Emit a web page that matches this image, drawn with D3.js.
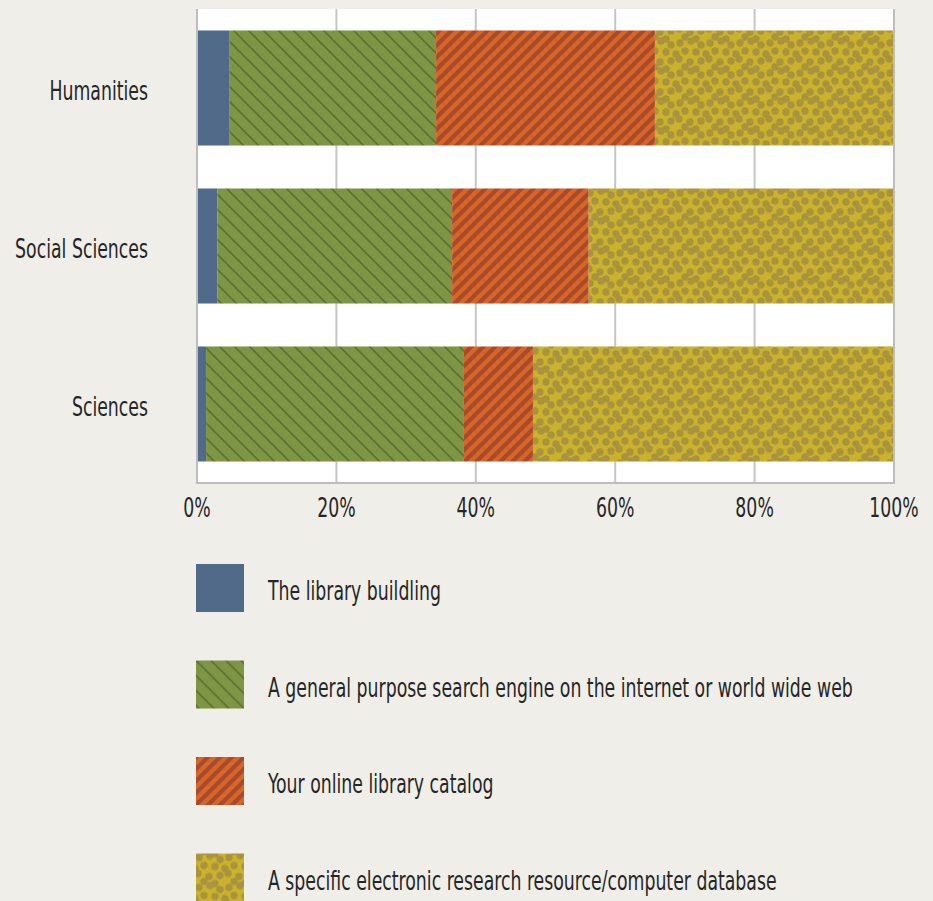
<!DOCTYPE html>
<html>
<head>
<meta charset="utf-8">
<script src="https://cdn.jsdelivr.net/npm/d3@7"></script>
<style>
  body { margin: 0; background: #efeee8; }
  svg text { font-family: "Liberation Sans Narrow", "DejaVu Sans Condensed", sans-serif; fill: #262626; }
</style>
</head>
<body>
<div id="chart"></div>
<script>
// Data (share of responses, %)
const categories = ["Humanities", "Social Sciences", "Sciences"];
const seriesNames = [
  "The library buildling",
  "A general purpose search engine on the internet or world wide web",
  "Your online library catalog",
  "A specific electronic research resource/computer database"
];
const libraryBuilding = [4.7, 2.9, 1.3];
const searchEngine = [29.6, 33.7, 37.0];
const onlineCatalog = [31.4, 19.6, 9.9];
const electronicResource = [34.3, 43.8, 51.8];
const tickValues = [0, 20, 40, 60, 80, 100];

const width = 933, height = 901;
const margin = { left: 197, top: 9, right: 39, bottom: 418 };
const plotW = width - margin.left - margin.right;
const plotH = height - margin.top - margin.bottom;

// condensed look: squeeze the text horizontally
const squeeze = 0.74;
const fontSize = "26px";

const svg = d3.select("#chart").append("svg")
  .attr("width", width)
  .attr("height", height);

// Fill patterns for each series
const defs = svg.append("defs");
const fills = ["#526a89", "url(#pat-green)", "url(#pat-orange)", "url(#pat-yellow)"];

const pg = defs.append("pattern").attr("id", "pat-green")
  .attr("patternUnits", "userSpaceOnUse").attr("width", 15).attr("height", 15);
pg.append("rect").attr("width", 15).attr("height", 15).attr("fill", "#7d9544");
pg.append("path").attr("d", "M-4,-4 L19,19 M-4,11 L4,19 M11,-4 L19,4")
  .attr("stroke", "#5b7230").attr("stroke-width", 1.6);

const po = defs.append("pattern").attr("id", "pat-orange")
  .attr("patternUnits", "userSpaceOnUse").attr("width", 12).attr("height", 12);
po.append("rect").attr("width", 12).attr("height", 12).attr("fill", "#d6652a");
po.append("path").attr("d", "M-3,3 L3,-3 M-3,15 L15,-3 M9,15 L15,9")
  .attr("stroke", "#a94b28").attr("stroke-width", 4.2);

const py = defs.append("pattern").attr("id", "pat-yellow")
  .attr("patternUnits", "userSpaceOnUse").attr("width", 30).attr("height", 30);
py.append("rect").attr("width", 30).attr("height", 30).attr("fill", "#cbb22c");
const dots = [[3, 4], [14, 2], [24, 6], [8, 12], [19, 13], [29, 15], [2, 20], [13, 23], [24, 22], [8, 28], [19, 30]];
// dots plus their copies shifted by one tile, so edges wrap cleanly
const shifts = [[0, 0], [30, 0], [-30, 0], [0, 30], [0, -30]];
const allDots = [];
shifts.forEach(s => dots.forEach(d => allDots.push([d[0] + s[0], d[1] + s[1]])));
py.selectAll("circle").data(allDots).enter().append("circle")
  .attr("cx", d => d[0]).attr("cy", d => d[1]).attr("r", 3.7)
  .attr("fill", "#a9943d");

const g = svg.append("g").attr("transform", `translate(${margin.left},${margin.top})`);

const x = d3.scaleLinear().domain([0, 100]).range([0, plotW]);
const y = d3.scaleBand().domain(categories).range([0, plotH]).paddingInner(0.272).paddingOuter(0.136);

// Plot background
g.append("rect").attr("width", plotW).attr("height", plotH).attr("fill", "#ffffff");

// Grid lines
g.selectAll("line.grid").data(tickValues.slice(1, -1)).enter().append("line")
  .attr("x1", d => x(d)).attr("x2", d => x(d))
  .attr("y1", 0).attr("y2", plotH)
  .attr("stroke", "#c6c6c6").attr("stroke-width", 2);

// Stack the series
const rows = categories.map((c, i) => ({
  cat: c, s0: libraryBuilding[i], s1: searchEngine[i], s2: onlineCatalog[i], s3: electronicResource[i]
}));
const stack = d3.stack().keys(["s0", "s1", "s2", "s3"])(rows);

g.selectAll("g.series").data(stack).enter().append("g")
  .attr("fill", (d, i) => fills[i])
  .selectAll("rect").data(d => d).enter().append("rect")
  .attr("x", d => x(d[0]))
  .attr("width", d => x(d[1]) - x(d[0]))
  .attr("y", d => y(d.data.cat))
  .attr("height", y.bandwidth());

// Frame lines: left, right, bottom
g.append("path")
  .attr("d", `M0,0 V${plotH} H${plotW} V0`)
  .attr("fill", "none").attr("stroke", "#bdbdbd").attr("stroke-width", 2);

// X axis labels
g.selectAll("text.tick").data(tickValues).enter().append("text")
  .attr("transform", d => `translate(${x(d)},${plotH + 34}) scale(${squeeze},1)`)
  .attr("text-anchor", "middle")
  .style("font-size", fontSize)
  .text(d => d + "%");

// Category labels
g.selectAll("text.cat").data(categories).enter().append("text")
  .attr("transform", d => `translate(-49,${y(d) + y.bandwidth() / 2 + 12}) scale(${squeeze},1)`)
  .attr("text-anchor", "end")
  .style("font-size", fontSize)
  .text(d => d);

// Legend
const legend = svg.append("g").attr("transform", "translate(196,564)");
const item = legend.selectAll("g").data(seriesNames).enter().append("g")
  .attr("transform", (d, i) => `translate(0,${i * 96.5})`);
item.append("rect").attr("width", 48).attr("height", 48).attr("fill", (d, i) => fills[i]);
item.append("text")
  .attr("transform", `translate(72,36) scale(${squeeze},1)`)
  .style("font-size", fontSize)
  .text(d => d);
</script>
</body>
</html>
